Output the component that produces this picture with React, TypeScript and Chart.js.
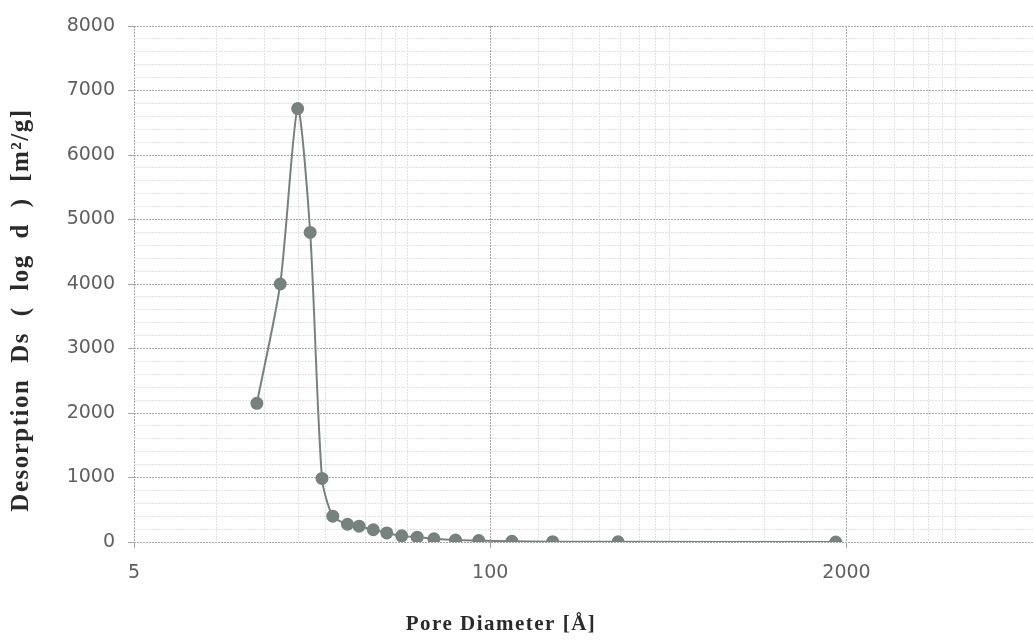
import React, { useEffect, useRef } from 'react';
import { Chart, registerables } from 'chart.js';

Chart.register(...registerables);

// Data
const poreDiameter = [14.05, 17.1, 19.8, 22.0, 24.3, 26.6, 30.1, 33.2, 37.4, 41.9, 47.5, 54.1, 62.3, 74.7, 90.8, 120, 169, 293, 1828];
const desorption = [2150, 4000, 6720, 4800, 985, 400, 275, 245, 190, 140, 95, 75, 50, 30, 22, 10, 5, 3, 0];

// Axis ticks
const xMajorTicks = [5, 100, 2000];
const xMinorTicks = [10, 15, 20, 25, 35, 40, 45, 50, 150, 200, 250, 300, 350, 400, 450, 1000, 1500, 2500, 3000, 3500, 4000, 4500, 5000];
const xMin = 5;
const xMax = 9600;
const yMajorTicks = [0, 1000, 2000, 3000, 4000, 5000, 6000, 7000, 8000];
const yMinorTicks = [200, 400, 600, 800, 1200, 1400, 1600, 1800, 2200, 2400, 2600, 2800, 3200, 3400, 3600, 3800, 4200, 4400, 4600, 4800, 5200, 5400, 5600, 5800, 6200, 6400, 6600, 6800, 7200, 7400, 7600, 7800];

const xTitle = 'Pore Diameter [Å]';
const yTitle = 'Desorption Ds ( log d ) [m²/g]';

const tickFont = { family: '"DejaVu Sans", sans-serif', size: 19 };
const tickColor = '#606060';
const majorGrid = '#a8a8a8';
const minorGrid = '#e2e2e2';
const markColor = '#77827e';

const titlesPlugin = {
  id: 'axisTitles',
  afterDraw(chart: any) {
    const ctx = chart.ctx as CanvasRenderingContext2D;
    ctx.save();
    ctx.fillStyle = '#2a2a2a';
    ctx.textAlign = 'center';
    ctx.textBaseline = 'middle';
    ctx.font = 'bold 21px "Liberation Serif", serif';
    (ctx as any).letterSpacing = '1.5px';
    ctx.fillText(xTitle, 501, 625);
    ctx.translate(22, 310);
    ctx.rotate(-Math.PI / 2);
    ctx.font = 'bold 25px "Liberation Serif", serif';
    (ctx as any).letterSpacing = '1.5px';
    (ctx as any).wordSpacing = '8px';
    ctx.fillText(yTitle, 0, 0);
    ctx.restore();
  },
};

export default function App() {
  const canvasRef = useRef<HTMLCanvasElement | null>(null);

  useEffect(() => {
    document.body.style.margin = '0';
    const canvas = canvasRef.current;
    if (!canvas) return;
    const allX = [...xMajorTicks, ...xMinorTicks].sort((a, b) => a - b);
    const allY = [...yMajorTicks, ...yMinorTicks].sort((a, b) => a - b);
    const chart = new Chart(canvas, {
      type: 'line',
      data: {
        datasets: [
          {
            data: poreDiameter.map((x, i) => ({ x, y: desorption[i] })),
            borderColor: markColor,
            backgroundColor: markColor,
            pointBackgroundColor: markColor,
            pointBorderColor: markColor,
            pointRadius: 5.5,
            borderWidth: 2,
            tension: 0.25,
            fill: false,
          },
        ],
      },
      options: {
        animation: false,
        responsive: true,
        maintainAspectRatio: false,
        layout: { autoPadding: false, padding: { top: 26, left: 0, right: 0, bottom: 0 } },
        plugins: { legend: { display: false }, tooltip: { enabled: false }, title: { display: false } },
        scales: {
          x: {
            type: 'logarithmic',
            min: xMin,
            max: xMax,
            afterBuildTicks: (scale: any) => {
              scale.ticks = allX.map((v) => ({ value: v, major: xMajorTicks.includes(v) }));
            },
            afterFit: (scale: any) => {
              scale.height = 98;
              scale.paddingLeft = 0;
              scale.paddingRight = 0;
            },
            ticks: {
              autoSkip: false,
              maxRotation: 0,
              minRotation: 0,
              padding: 14,
              color: tickColor,
              font: tickFont,
              callback: (v: any) => (xMajorTicks.includes(Number(v)) ? String(v) : ''),
            },
            grid: {
              color: (c: any) => (c.tick && xMajorTicks.includes(c.tick.value) ? majorGrid : minorGrid),
              tickColor: (c: any) => (c.tick && xMajorTicks.includes(c.tick.value) ? majorGrid : 'rgba(0,0,0,0)'),
              tickLength: 6,
              lineWidth: 1,
            },
            border: { display: false, dash: [2, 1] },
          },
          y: {
            type: 'linear',
            min: 0,
            max: 8000,
            afterBuildTicks: (scale: any) => {
              scale.ticks = allY.map((v) => ({ value: v }));
            },
            afterFit: (scale: any) => {
              scale.width = 134;
              scale.paddingTop = 0;
              scale.paddingBottom = 0;
            },
            ticks: {
              autoSkip: false,
              padding: 13,
              color: tickColor,
              font: tickFont,
              callback: (v: any) => (yMajorTicks.includes(Number(v)) ? String(v) : ''),
            },
            grid: {
              color: (c: any) => (c.tick && yMajorTicks.includes(c.tick.value) ? majorGrid : minorGrid),
              tickColor: (c: any) => (c.tick && yMajorTicks.includes(c.tick.value) ? majorGrid : 'rgba(0,0,0,0)'),
              tickLength: 6,
              lineWidth: 1,
            },
            border: { display: false, dash: [2, 1] },
          },
        },
      } as any,
      plugins: [titlesPlugin],
    });
    return () => chart.destroy();
  }, []);

  return (
    <div style={{ width: 1033, height: 640, position: 'relative', background: '#ffffff' }}>
      <canvas ref={canvasRef} />
    </div>
  );
}
